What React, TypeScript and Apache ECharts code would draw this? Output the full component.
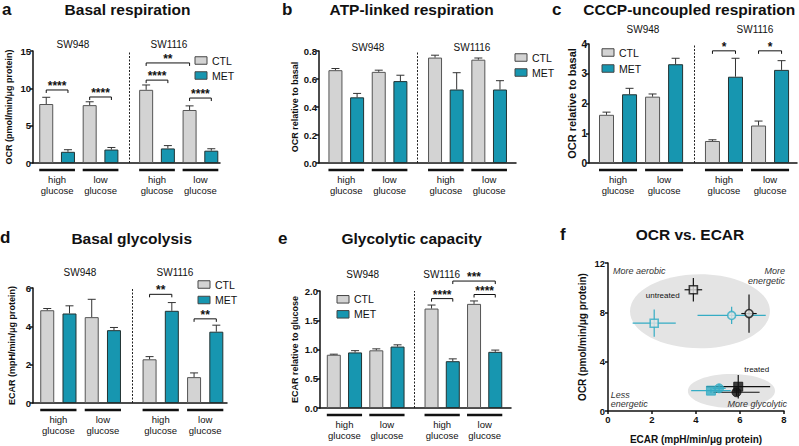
import React, { useEffect, useRef } from "react";
import * as echarts from "echarts";

const FONT = "'Liberation Sans', Arial, Helvetica, sans-serif";
const GREY = "#d3d3d3";
const TEAL = "#1796b0";
const CYAN = "#35acc4";
const INK = "#111111";
const ELLIPSE = "#e4e4e4";

// ---------- shared categories ----------
const cellLines = ["SW948", "SW1116"];
const glucoseGroups = ["high glucose", "low glucose", "high glucose", "low glucose"];
const treatments = ["CTL", "MET"];

// ---------- a: Basal respiration ----------
const basalOcrCtl = [7.9, 7.75, 9.8, 7.1];
const basalOcrCtlErr = [0.9, 0.45, 0.65, 0.55];
const basalOcrMet = [1.5, 1.8, 1.95, 1.65];
const basalOcrMetErr = [0.28, 0.28, 0.38, 0.26];
const basalOcrSigPairs = [[0, 1], [2, 3], [4, 5], [4, 6], [6, 7]];
const basalOcrSigY = [9.78, 8.84, 11.1, 13.4, 8.7];
const basalOcrSigLabels = ["****", "****", "****", "**", "****"];

// ---------- b: ATP-linked respiration ----------
const atpCtl = [0.663, 0.651, 0.753, 0.738];
const atpCtlErr = [0.012, 0.012, 0.017, 0.012];
const atpMet = [0.469, 0.585, 0.525, 0.525];
const atpMetErr = [0.028, 0.042, 0.12, 0.063];

// ---------- c: CCCP-uncoupled respiration ----------
const cccpCtl = [1.62, 2.23, 0.74, 1.26];
const cccpCtlErr = [0.09, 0.09, 0.04, 0.15];
const cccpMet = [2.31, 3.32, 2.9, 3.13];
const cccpMetErr = [0.2, 0.2, 0.62, 0.31];
const cccpSigPairs = [[4, 5], [6, 7]];
const cccpSigY = [3.77, 3.77];
const cccpSigLabels = ["*", "*"];

// ---------- d: Basal glycolysis ----------
const glycCtl = [4.84, 4.48, 2.28, 1.35];
const glycCtlErr = [0.09, 0.93, 0.14, 0.22];
const glycMet = [4.67, 3.8, 4.81, 3.72];
const glycMetErr = [0.4, 0.14, 0.43, 0.34];
const glycSigPairs = [[4, 5], [6, 7]];
const glycSigY = [5.67, 4.39];
const glycSigLabels = ["**", "**"];

// ---------- e: Glycolytic capacity ----------
const capCtl = [0.91, 0.986, 1.7, 1.78];
const capCtlErr = [0.01, 0.025, 0.06, 0.05];
const capMet = [0.95, 1.05, 0.8, 0.96];
const capMetErr = [0.03, 0.03, 0.04, 0.03];
const capSigPairs = [[4, 5], [6, 7], [5, 7]];
const capSigY = [1.87, 1.94, 2.17];
const capSigLabels = ["****", "****", "***"];

// ---------- f: OCR vs ECAR ----------
const pointMarkers = ["rect", "circle", "rect", "circle"];
const pointColors = [INK, INK, CYAN, CYAN];
const ecarUntreated = [3.88, 6.41, 2.1, 5.62];
const ecarUntreatedErr = [0.4, 0.35, 0.98, 1.55];
const ocrUntreated = [9.83, 7.9, 7.12, 7.75];
const ocrUntreatedErr = [0.95, 1.55, 1.1, 0.7];
const ecarTreated = [5.92, 5.84, 4.68, 5.05];
const ecarTreatedErr = [1.45, 1.05, 0.9, 0.3];
const ocrTreated = [1.97, 1.52, 1.65, 1.84];
const ocrTreatedErr = [0.95, 0.3, 0.2, 0.35];
const ellipseUntreated = [4.18, 8.09, 3.18, 3.0];
const ellipseTreated = [5.61, 1.63, 1.98, 1.37];

// ---------- layout ----------
const groupX = [0, 2, 4.6, 6.6];
const barX = [0, 1, 2, 3, 4.6, 5.6, 6.6, 7.6];
const DIVIDER_X = 3.8;

type Panel = {
  letter: string; title: string; letterPos: number[]; titlePos: number[];
  grid: number[]; xRange: number[]; yMax: number; yInterval: number; decimals: number;
  yName: string; yNameSize: number; yNameGap: number; tickSize: number; barWidth: number;
  ctl: number[]; ctlErr: number[]; met: number[]; metErr: number[];
  sigPairs: number[][]; sigY: number[]; sigLabels: string[];
  legend: number[]; cellLabelPos: number[][];
};

const barPanels: Panel[] = [
  {
    letter: "a", title: "Basal respiration", letterPos: [2, 9], titlePos: [127.5, 9.5],
    grid: [33, 51, 187, 112], xRange: [-0.61, 8.0], yMax: 15, yInterval: 5, decimals: 0,
    yName: "OCR (pmol/min/μg protein)", yNameSize: 9, yNameGap: 20, tickSize: 9.5, barWidth: 14,
    ctl: basalOcrCtl, ctlErr: basalOcrCtlErr, met: basalOcrMet, metErr: basalOcrMetErr,
    sigPairs: basalOcrSigPairs, sigY: basalOcrSigY, sigLabels: basalOcrSigLabels,
    legend: [195, 60.5, 75.5], cellLabelPos: [[73, 44], [169, 44]],
  },
  {
    letter: "b", title: "ATP-linked respiration", letterPos: [282, 9.2], titlePos: [411.7, 9.5],
    grid: [319, 51, 197, 112], xRange: [-0.76, 8.34], yMax: 0.8, yInterval: 0.2, decimals: 1,
    yName: "OCR relative to basal", yNameSize: 9, yNameGap: 20, tickSize: 9.5, barWidth: 14,
    ctl: atpCtl, ctlErr: atpCtlErr, met: atpMet, metErr: atpMetErr,
    sigPairs: [], sigY: [], sigLabels: [],
    legend: [515, 57.5, 72.5], cellLabelPos: [[368, 47.5], [472, 47.5]],
  },
  {
    letter: "c", title: "CCCP-uncoupled respiration", letterPos: [552, 9.3], titlePos: [689.2, 9.5],
    grid: [589, 44, 208, 119], xRange: [-0.76, 8.27], yMax: 4, yInterval: 1, decimals: 0,
    yName: "OCR relative to basal", yNameSize: 11, yNameGap: 12, tickSize: 10, barWidth: 15,
    ctl: cccpCtl, ctlErr: cccpCtlErr, met: cccpMet, metErr: cccpMetErr,
    sigPairs: cccpSigPairs, sigY: cccpSigY, sigLabels: cccpSigLabels,
    legend: [602, 52.5, 68.5], cellLabelPos: [[643, 29], [755, 29]],
  },
  {
    letter: "d", title: "Basal glycolysis", letterPos: [0, 237], titlePos: [131.7, 238.5],
    grid: [33, 288, 194, 115], xRange: [-0.64, 8.08], yMax: 6, yInterval: 2, decimals: 0,
    yName: "ECAR (mpH/min/μg protein)", yNameSize: 9, yNameGap: 16.5, tickSize: 9.5, barWidth: 14,
    ctl: glycCtl, ctlErr: glycCtlErr, met: glycMet, metErr: glycMetErr,
    sigPairs: glycSigPairs, sigY: glycSigY, sigLabels: glycSigLabels,
    legend: [198, 284.5, 300], cellLabelPos: [[80, 272.7], [175, 272.7]],
  },
  {
    letter: "e", title: "Glycolytic capacity", letterPos: [278, 238.5], titlePos: [411.7, 238.5],
    grid: [320, 291, 191, 117], xRange: [-0.65, 8.34], yMax: 2, yInterval: 0.5, decimals: 1,
    yName: "ECAR relative to glucose", yNameSize: 9, yNameGap: 20.5, tickSize: 9.5, barWidth: 14,
    ctl: capCtl, ctlErr: capCtlErr, met: capMet, metErr: capMetErr,
    sigPairs: capSigPairs, sigY: capSigY, sigLabels: capSigLabels,
    legend: [337, 299.3, 314.3], cellLabelPos: [[362.7, 274.3], [441.7, 274.3]],
  },
];

function txt(text: string, x: number, y: number, o: any = {}) {
  const align = o.align || "center";
  const va = o.va || "middle";
  return {
    type: "text", x, y, silent: true, z: 100,
    style: {
      text, fill: o.fill || INK, fontFamily: FONT, fontSize: o.size || 10,
      fontWeight: o.weight || "normal", fontStyle: o.style || "normal",
      align, textAlign: align, verticalAlign: va, textVerticalAlign: va,
    },
  };
}

function buildOption() {
  const grid: any[] = [];
  const xAxis: any[] = [];
  const yAxis: any[] = [];
  const series: any[] = [];
  const graphic: any[] = [];
  const axisLine = { show: true, onZero: false, lineStyle: { color: INK, width: 1.5 } };

  barPanels.forEach((p, i) => {
    grid.push({ left: p.grid[0], top: p.grid[1], width: p.grid[2], height: p.grid[3] });
    xAxis.push({
      type: "value", gridIndex: i, min: p.xRange[0], max: p.xRange[1],
      axisLine, axisTick: { show: false }, axisLabel: { show: false }, splitLine: { show: false },
    });
    yAxis.push({
      type: "value", gridIndex: i, min: 0, max: p.yMax, interval: p.yInterval,
      name: p.yName, nameLocation: "middle", nameGap: p.yNameGap,
      nameTextStyle: { fontFamily: FONT, fontWeight: "bold", fontSize: p.yNameSize, color: INK },
      axisLine, axisTick: { show: true, length: 3, lineStyle: { color: INK, width: 1.5 } },
      axisLabel: {
        fontFamily: FONT, fontWeight: "bold", fontSize: p.tickSize, color: INK, margin: 2,
        formatter: (v: number) => v.toFixed(p.decimals),
      },
      splitLine: { show: false },
    });

    series.push({
      type: "bar", name: treatments[0], xAxisIndex: i, yAxisIndex: i,
      barWidth: p.barWidth, barGap: "-100%",
      data: groupX.map((x, g) => [x, p.ctl[g]]),
      itemStyle: { color: GREY, borderColor: "#555", borderWidth: 1 },
      markLine: {
        silent: true, symbol: ["none", "none"], label: { show: false },
        lineStyle: { color: "#222", width: 1, type: [2, 1.5] },
        data: [{ xAxis: DIVIDER_X }],
      },
      z: 2,
    });
    series.push({
      type: "bar", name: treatments[1], xAxisIndex: i, yAxisIndex: i,
      barWidth: p.barWidth, barGap: "-100%",
      data: groupX.map((x, g) => [x + 1, p.met[g]]),
      itemStyle: { color: TEAL, borderColor: "#233", borderWidth: 1 },
      z: 2,
    });

    const errData = [
      ...groupX.map((x, g) => [x, p.ctl[g], p.ctlErr[g]]),
      ...groupX.map((x, g) => [x + 1, p.met[g], p.metErr[g]]),
    ];
    series.push({
      type: "custom", xAxisIndex: i, yAxisIndex: i, clip: false, silent: true, z: 3,
      encode: { x: 0, y: 1 },
      data: errData,
      renderItem: (_params: any, api: any) => {
        const x = api.value(0), v = api.value(1), e = api.value(2);
        const a = api.coord([x, v]);
        const b = api.coord([x, v + e]);
        const st = { stroke: "#333", lineWidth: 1 };
        return {
          type: "group",
          children: [
            { type: "line", shape: { x1: a[0], y1: a[1], x2: b[0], y2: b[1] }, style: st },
            { type: "line", shape: { x1: b[0] - 4, y1: b[1], x2: b[0] + 4, y2: b[1] }, style: st },
          ],
        };
      },
    });

    if (p.sigPairs.length) {
      series.push({
        type: "custom", xAxisIndex: i, yAxisIndex: i, clip: false, silent: true, z: 3,
        encode: { x: [0, 1], y: 2 },
        data: p.sigPairs.map((pr, k) => [barX[pr[0]], barX[pr[1]], p.sigY[k]]),
        renderItem: (params: any, api: any) => {
          const y = api.value(2);
          const a = api.coord([api.value(0), y]);
          const b = api.coord([api.value(1), y]);
          return {
            type: "group",
            children: [
              {
                type: "polyline",
                shape: { points: [[a[0], a[1] + 3], [a[0], a[1]], [b[0], b[1]], [b[0], b[1] + 3]] },
                style: { stroke: INK, lineWidth: 1, fill: null },
              },
              txt(p.sigLabels[params.dataIndex], (a[0] + b[0]) / 2, a[1] - 4, { size: 12, weight: "bold" }),
            ],
          };
        },
      });
    }

    const half = p.barWidth / 2;
    series.push({
      type: "custom", xAxisIndex: i, yAxisIndex: i, clip: false, silent: true, z: 3,
      encode: { x: [0, 1], y: 2 },
      data: groupX.map((x) => [x, x + 1, 0]),
      renderItem: (params: any, api: any) => {
        const a = api.coord([api.value(0), 0]);
        const b = api.coord([api.value(1), 0]);
        const cx = (a[0] + b[0]) / 2;
        const words = glucoseGroups[params.dataIndex].split(" ");
        return {
          type: "group",
          children: [
            {
              type: "line",
              shape: { x1: a[0] - half, y1: a[1] + 7, x2: b[0] + half, y2: a[1] + 7 },
              style: { stroke: INK, lineWidth: 2.5 },
            },
            txt(words[0], cx, a[1] + 16.5, { size: 9.5 }),
            txt(words[1], cx, a[1] + 27.5, { size: 9.5 }),
          ],
        };
      },
    });

    // titles, letters, legend, cell line labels
    graphic.push(txt(p.letter, p.letterPos[0], p.letterPos[1], { size: 17, weight: "bold", align: "left" }));
    graphic.push(txt(p.title, p.titlePos[0], p.titlePos[1], { size: 15.5, weight: "bold" }));
    [GREY, TEAL].forEach((c, k) => {
      const ly = p.legend[1 + k];
      graphic.push({
        type: "rect", silent: true, z: 100,
        shape: { x: p.legend[0], y: ly - 3.75, width: 12, height: 7.5 },
        style: { fill: c, stroke: "#444", lineWidth: 1 },
      });
      graphic.push(txt(treatments[k], p.legend[0] + 17, ly, { size: 10.5, align: "left" }));
    });
    cellLines.forEach((name, k) => {
      graphic.push(txt(name, p.cellLabelPos[k][0], p.cellLabelPos[k][1], { size: 10 }));
    });
  });

  // ---------- panel f ----------
  const fi = barPanels.length;
  grid.push({ left: 608, top: 263, width: 176, height: 148 });
  xAxis.push({
    type: "value", gridIndex: fi, min: 0, max: 8, interval: 2,
    name: "ECAR (mpH/min/μg protein)", nameLocation: "middle", nameGap: 23,
    nameTextStyle: { fontFamily: FONT, fontWeight: "bold", fontSize: 10, color: INK },
    axisLine, axisTick: { show: true, length: 3, lineStyle: { color: INK, width: 1.5 } },
    axisLabel: { fontFamily: FONT, fontWeight: "bold", fontSize: 9.5, color: INK, margin: 3 },
    splitLine: { show: false },
  });
  yAxis.push({
    type: "value", gridIndex: fi, min: 0, max: 12, interval: 4,
    name: "OCR (pmol/min/μg protein)", nameLocation: "middle", nameGap: 21,
    nameTextStyle: { fontFamily: FONT, fontWeight: "bold", fontSize: 10, color: INK },
    axisLine, axisTick: { show: true, length: 3, lineStyle: { color: INK, width: 1.5 } },
    axisLabel: { fontFamily: FONT, fontWeight: "bold", fontSize: 9.5, color: INK, margin: 3 },
    splitLine: { show: false },
  });

  series.push({
    type: "custom", xAxisIndex: fi, yAxisIndex: fi, clip: false, silent: true, z: 1,
    encode: { x: 0, y: 1 },
    data: [ellipseUntreated, ellipseTreated],
    renderItem: (_params: any, api: any) => {
      const c = api.coord([api.value(0), api.value(1)]);
      const s = api.size([api.value(2), api.value(3)]);
      return { type: "ellipse", shape: { cx: c[0], cy: c[1], rx: s[0], ry: s[1] }, style: { fill: ELLIPSE } };
    },
  });

  const errPts: number[][] = [];
  const errCols: string[] = [];
  pointColors.forEach((c, k) => {
    errPts.push([ecarUntreated[k], ocrUntreated[k], ecarUntreatedErr[k], ocrUntreatedErr[k]]);
    errCols.push(c);
  });
  pointColors.forEach((c, k) => {
    errPts.push([ecarTreated[k], ocrTreated[k], ecarTreatedErr[k], ocrTreatedErr[k]]);
    errCols.push(c);
  });
  series.push({
    type: "custom", xAxisIndex: fi, yAxisIndex: fi, clip: false, silent: true, z: 2,
    encode: { x: 0, y: 1 },
    data: errPts,
    renderItem: (params: any, api: any) => {
      const x = api.value(0), y = api.value(1), ex = api.value(2), ey = api.value(3);
      const l = api.coord([x - ex, y]), r = api.coord([x + ex, y]);
      const t = api.coord([x, y + ey]), b = api.coord([x, y - ey]);
      const st = { stroke: errCols[params.dataIndex], lineWidth: 1.2 };
      return {
        type: "group",
        children: [
          { type: "line", shape: { x1: l[0], y1: l[1], x2: r[0], y2: r[1] }, style: st },
          { type: "line", shape: { x1: t[0], y1: t[1], x2: b[0], y2: b[1] }, style: st },
        ],
      };
    },
  });

  series.push({
    type: "scatter", name: "untreated", xAxisIndex: fi, yAxisIndex: fi, z: 4, silent: true,
    data: pointColors.map((c, k) => ({
      value: [ecarUntreated[k], ocrUntreated[k]], symbol: pointMarkers[k], symbolSize: 8,
      itemStyle: { color: ELLIPSE, borderColor: c, borderWidth: 1.6 },
    })),
  });
  series.push({
    type: "scatter", name: "treated", xAxisIndex: fi, yAxisIndex: fi, z: 4, silent: true,
    data: pointColors.map((c, k) => ({
      value: [ecarTreated[k], ocrTreated[k]], symbol: pointMarkers[k], symbolSize: 9,
      itemStyle: { color: c, borderColor: c, borderWidth: 1 },
    })),
  });

  graphic.push(txt("f", 560, 234.5, { size: 17, weight: "bold", align: "left" }));
  graphic.push(txt("OCR vs. ECAR", 690, 234.5, { size: 15.5, weight: "bold" }));
  const q = { size: 9, style: "italic", fill: "#333" };
  graphic.push(txt("More aerobic", 613, 270.7, { ...q, align: "left" }));
  graphic.push(txt("More", 785, 270.7, { ...q, align: "right" }));
  graphic.push(txt("energetic", 785, 280.7, { ...q, align: "right" }));
  graphic.push(txt("Less", 610.7, 395, { ...q, align: "left" }));
  graphic.push(txt("energetic", 610.7, 403.5, { ...q, align: "left" }));
  graphic.push(txt("More glycolytic", 787, 403.5, { ...q, align: "right" }));
  graphic.push(txt("untreated", 662.7, 295.7, { size: 8 }));
  graphic.push(txt("treated", 756.7, 369, { size: 8 }));

  return {
    animation: false,
    backgroundColor: "#ffffff",
    textStyle: { fontFamily: FONT },
    grid, xAxis, yAxis, series, graphic,
  };
}

export default function App() {
  const ref = useRef<HTMLDivElement>(null);
  useEffect(() => {
    document.body.style.margin = "0";
    const chart = echarts.init(ref.current as HTMLDivElement, null, { renderer: "svg" });
    chart.setOption(buildOption() as any);
    return () => chart.dispose();
  }, []);
  return <div ref={ref} style={{ width: 799, height: 446 }} />;
}
